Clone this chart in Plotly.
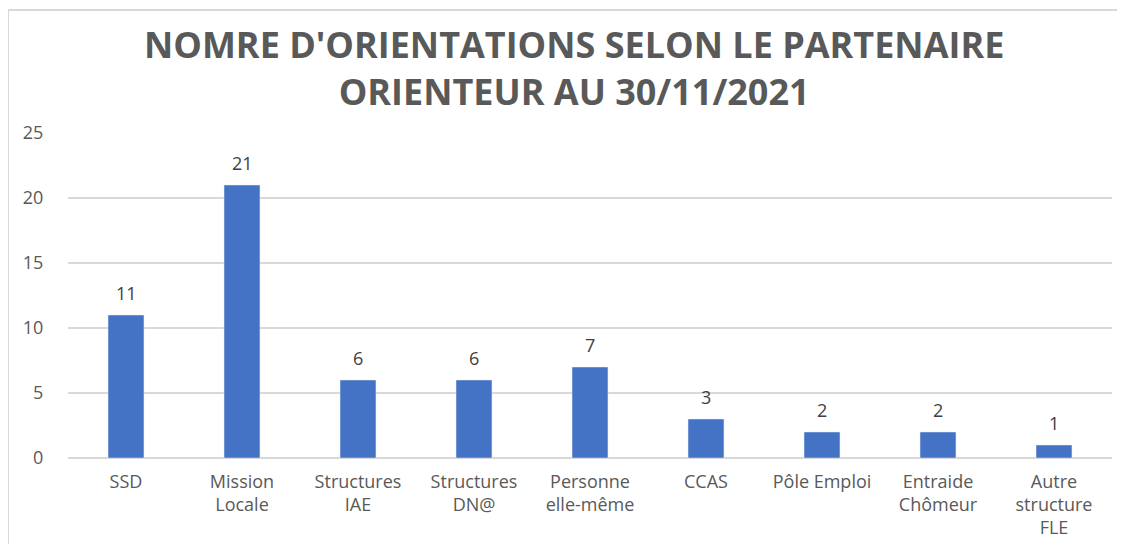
import plotly.graph_objects as go

categories = ["SSD", "Mission<br>Locale", "Structures<br>IAE", "Structures<br>DN@", "Personne<br>elle-même",
              "CCAS", "Pôle Emploi", "Entraide<br>Chômeur", "Autre<br>structure<br>FLE"]
values = [11, 21, 6, 6, 7, 3, 2, 2, 1]
y_ticks = [0, 5, 10, 15, 20, 25]
title_lines = ["NOMRE D'ORIENTATIONS SELON LE PARTENAIRE", "ORIENTEUR AU 30/11/2021"]

W, H = 1125, 544
OFF = 8  # page body margin
L, T = 68 - OFF, 133 - OFF
R = W - (1112 - OFF)
B = H - (458 - OFF)
pw, ph = W - L - R, H - T - B

def px_x(x):
    return (x - OFF - L) / pw

def px_y(y):
    return (H - (y - OFF) - B) / ph

fig = go.Figure(go.Bar(
    x=categories, y=values, marker_color="#4472C4",
    width=0.31, hoverinfo="x+y",
))

annotations = []
for c, v in zip(categories, values):
    annotations.append(dict(x=c, y=v, xref="x", yref="y", text=str(v), showarrow=False,
                            yanchor="bottom", yshift=8,
                            font=dict(size=18, color="#404040", family="Open Sans")))
annotations.append(dict(x=px_x(574), y=px_y(68), xref="paper", yref="paper",
                        text="<br>".join(title_lines),
                        showarrow=False, xanchor="center", yanchor="middle", align="center",
                        font=dict(family="Open Sans", size=36, color="#595959", weight="bold")))

fig.update_layout(
    width=W, height=H,
    margin=dict(l=L, r=R, t=T, b=B),
    paper_bgcolor="white", plot_bgcolor="white",
    showlegend=False,
    annotations=annotations,
    xaxis=dict(tickfont=dict(size=18, color="#595959", family="Open Sans"),
               showline=False, ticks="outside", ticklen=7, tickcolor="rgba(0,0,0,0)",
               showgrid=False, automargin=False),
    yaxis=dict(range=[0, 25], tickvals=y_ticks, showgrid=True, gridcolor="#d9d9d9",
               gridwidth=1.5, zeroline=True, zerolinecolor="#d9d9d9", zerolinewidth=1.5,
               tickfont=dict(size=18, color="#595959", family="Open Sans"),
               ticks="outside", ticklen=20, tickcolor="rgba(0,0,0,0)", automargin=False),
    shapes=[dict(type="rect", xref="paper", yref="paper",
                 x0=px_x(8), x1=px_x(1140), y0=px_y(560), y1=px_y(10),
                 line=dict(color="#d9d9d9", width=2), layer="below")],
)

fig.write_html("out.html")
